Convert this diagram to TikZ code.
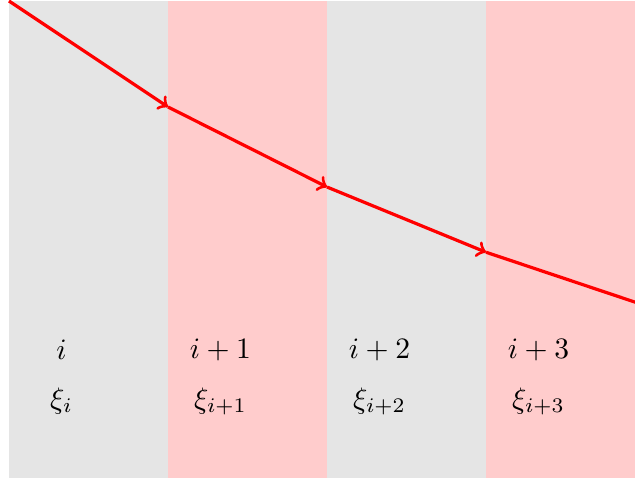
\documentclass[tikz,border=0pt]{standalone}
\begin{document}
\begin{tikzpicture}
\tikzset{
  graystrip/.style={fill=black!10, draw=none},
  pinkstrip/.style={fill=red!20, draw=none},
  path/.style={red, line width=1.15pt, ->},
  lbl/.style={inner sep=0pt, scale=1.06}
}
\useasboundingbox (-0.113,-0.025) rectangle (7.874,6.0125);
\fill[graystrip] (0,0) rectangle (2,6);
\fill[pinkstrip] (2,0) rectangle (4,6);
\fill[graystrip] (4,0) rectangle (6,6);
\fill[pinkstrip] (6,0) rectangle (8,6);
\coordinate (p0) at (0,6);
\coordinate (p1) at (2,4.667);
\coordinate (p2) at (4,3.66);
\coordinate (p3) at (6,2.84);
\coordinate (p4) at (8,2.17);
\draw[path] (p0) -- (p1);
\draw[path] (p1) -- (p2);
\draw[path] (p2) -- (p3);
\draw[red, line width=1.15pt] (p3) -- (p4);
\node[lbl] (n0) at (0.66,1.61) {$i$};
\node[lbl] (n1) at (2.66,1.61) {$i+1$};
\node[lbl] (n2) at (4.66,1.61) {$i+2$};
\node[lbl] (n3) at (6.66,1.61) {$i+3$};
\node[lbl,anchor=base] (x0) at (0.66,0.88) {$\xi_i$};
\node[lbl,anchor=base] (x1) at (2.66,0.88) {$\xi_{i+1}$};
\node[lbl,anchor=base] (x2) at (4.66,0.88) {$\xi_{i+2}$};
\node[lbl,anchor=base] (x3) at (6.66,0.88) {$\xi_{i+3}$};
\end{tikzpicture}
\end{document}
